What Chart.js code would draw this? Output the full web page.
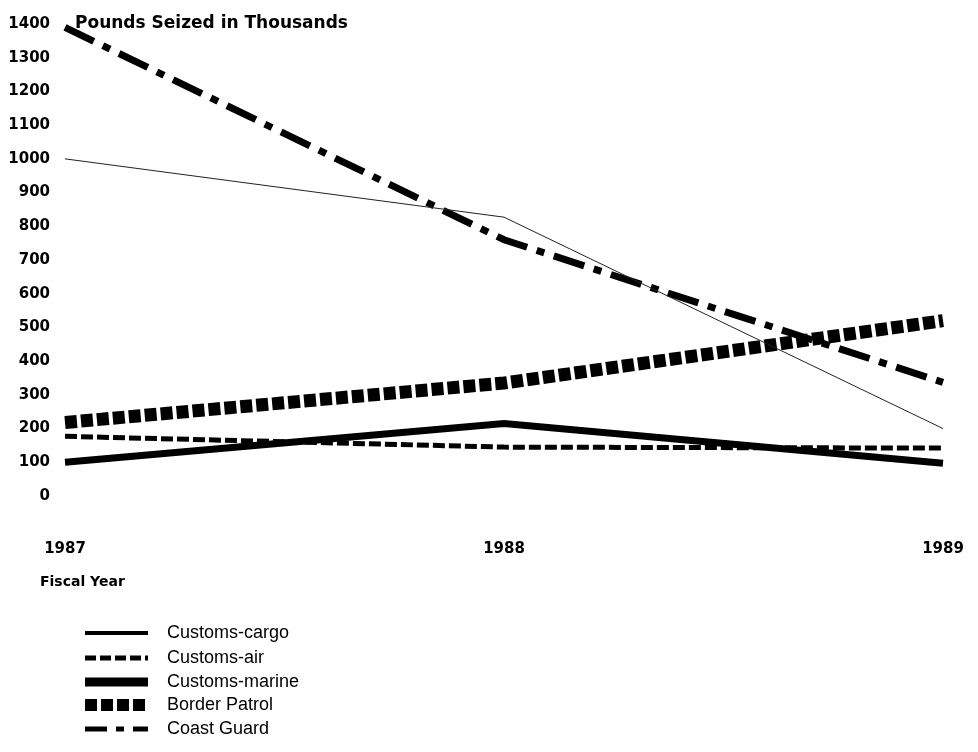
<!DOCTYPE html>
<html>
<head>
<meta charset="utf-8">
<script src="https://cdn.jsdelivr.net/npm/chart.js@4.4.1/dist/chart.umd.min.js"></script>
<style>
  html, body { margin: 0; padding: 0; background: #fff; }
  #wrap { width: 978px; height: 752px; }
</style>
</head>
<body>
<div id="wrap"><canvas id="seizChart" width="978" height="752"></canvas></div>
<script>
// data (pounds seized, thousands)
const years = ['1987', '1988', '1989'];
const customsCargo = [1000, 827, 200];
const customsAir = [177, 145, 142];
const customsMarine = [100, 215, 97];
const borderPatrol = [218, 335, 520];
const coastGuard = [1390, 760, 337];
const seriesNames = ['Customs-cargo', 'Customs-air', 'Customs-marine', 'Border Patrol', 'Coast Guard'];

const axisFont = { family: 'DejaVu Sans', weight: 'bold', size: 15 };

// titel + legenda digambar manual di canvas
const extrasPlugin = {
    id: 'extras',
    afterDraw(chart) {
        const ctx = chart.ctx;
        const area = chart.chartArea;
        ctx.save();
        ctx.fillStyle = '#000';
        ctx.textBaseline = 'middle';
        ctx.font = 'bold 17px "DejaVu Sans"';
        ctx.fillText('Pounds Seized in Thousands', area.left + 10, area.top);
        ctx.font = 'bold 14px "DejaVu Sans"';
        ctx.fillText('Fiscal Year', 40, 582);

        // legenda
        const rowY = [633, 658, 682, 705, 729];
        chart.data.datasets.forEach((ds, i) => {
            const y = rowY[i];
            ctx.beginPath();
            ctx.strokeStyle = '#000';
            ctx.lineWidth = ds.legendWidth;
            ctx.lineCap = 'butt';
            ctx.setLineDash(ds.legendDash || []);
            ctx.moveTo(85, y);
            ctx.lineTo(148, y);
            ctx.stroke();
            ctx.setLineDash([]);
            ctx.font = '18px "Liberation Sans"';
            ctx.fillText(ds.label, 167, y);
        });
        ctx.restore();
    }
};

const ctx = document.getElementById('seizChart');
new Chart(ctx, {
    type: 'line',
    data: {
        labels: years,
        datasets: [
            { label: seriesNames[0], data: customsCargo, borderColor: '#222', borderWidth: 1,
              legendWidth: 4 },
            { label: seriesNames[1], data: customsAir, borderColor: '#000', borderWidth: 5,
              borderDash: [12, 4], legendWidth: 5, legendDash: [11, 4] },
            { label: seriesNames[2], data: customsMarine, borderColor: '#000', borderWidth: 7,
              legendWidth: 9 },
            { label: seriesNames[3], data: borderPatrol, borderColor: '#000', borderWidth: 13,
              borderDash: [12, 4], legendWidth: 12, legendDash: [12, 4] },
            { label: seriesNames[4], data: coastGuard, borderColor: '#000', borderWidth: 7,
              borderDash: [32, 10, 8, 10], legendWidth: 5, legendDash: [22, 9, 8, 9] }
        ]
    },
    options: {
        responsive: false,
        animation: false,
        layout: { padding: { top: 20, right: 35, left: 0, bottom: 0 } },
        elements: {
            point: { radius: 0 },
            line: { tension: 0, borderCapStyle: 'butt', borderJoinStyle: 'miter', fill: false }
        },
        scales: {
            x: {
                offset: false,
                grid: { display: false, drawTicks: true, tickLength: 44 },
                border: { display: false },
                ticks: { color: '#000', font: axisFont, padding: 0, maxRotation: 0 },
                afterFit(scale) { scale.height = 256; }
            },
            y: {
                min: 0,
                max: 1400,
                grid: { display: false, drawTicks: false },
                border: { display: false },
                ticks: { color: '#000', font: axisFont, stepSize: 100, padding: 15,
                         callback: v => String(v) },
                afterFit(scale) { scale.width = 65; }
            }
        },
        plugins: {
            legend: { display: false },
            tooltip: { enabled: false }
        }
    },
    plugins: [extrasPlugin]
});
</script>
</body>
</html>
